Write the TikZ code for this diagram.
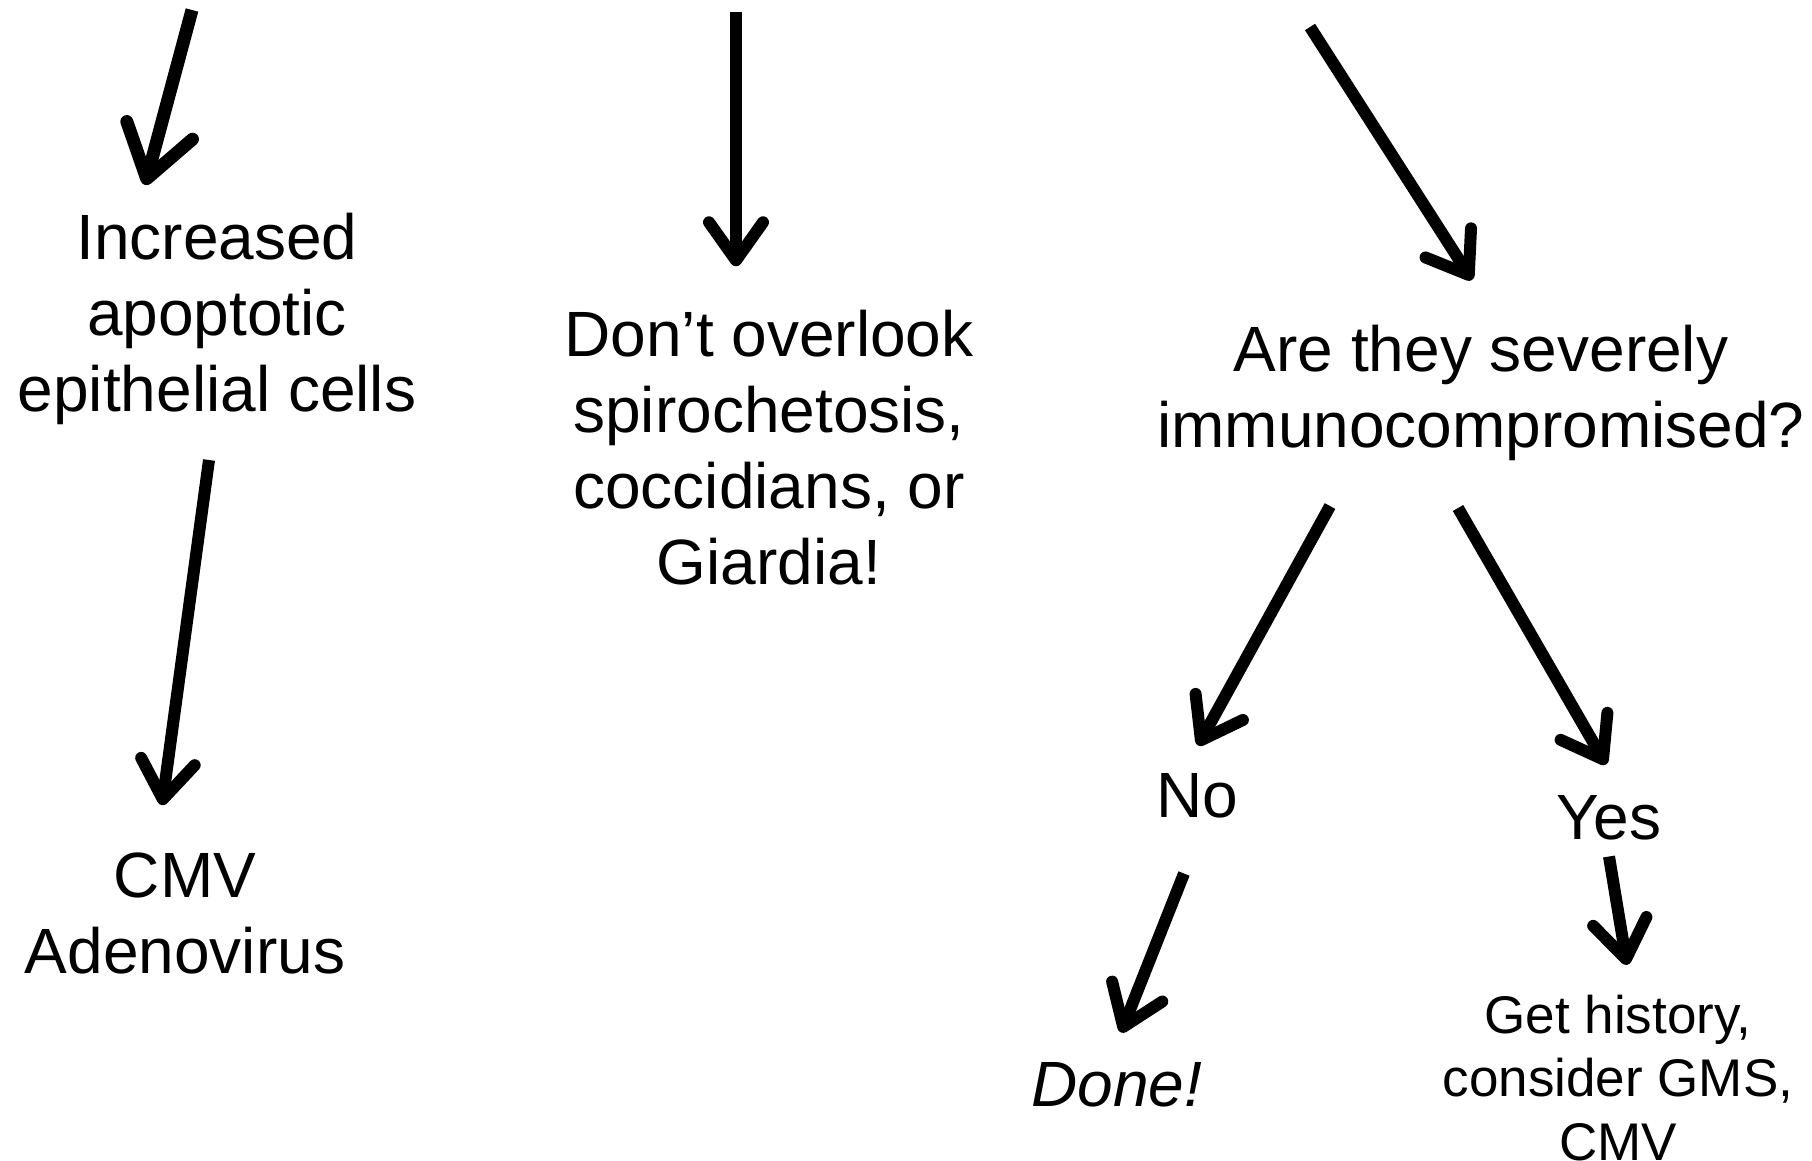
\documentclass[tikz,border=0pt]{standalone}
\usepackage{fontspec}
\setmainfont{Liberation Sans}
\usetikzlibrary{arrows.meta,positioning}
\tikzset{
  flow/.style={
    line width=12pt,
    -{Straight Barb[length=38pt,width=54pt,round]}
  },
  bigflow/.style={
    line width=13pt,
    -{Straight Barb[length=50pt,width=68pt,round]}
  },
}
\tikzset{
  txt/.style={
    inner sep=0pt,
    align=center,
    font=\fontsize{64}{76}\selectfont
  },
  small/.style={
    inner sep=0pt,
    align=center,
    font=\fontsize{53}{63.5}\selectfont
  },
}

\begin{document}
\begin{tikzpicture}[x=1pt,y=-1pt]
        \useasboundingbox (0,0) rectangle (1812,1161);

        % left column
        \coordinate (inL) at (192,10);
        \node[txt] (apop) at (217,319) {Increased\\apoptotic\\epithelial cells};
        \node[txt] (virus) at (185,913) {CMV\\Adenovirus};

        \draw[bigflow] (inL) -- ([shift={(-72,-28)}]apop.north);
        \draw[flow] ([shift={(-8,35)}]apop.south) -- ([shift={(-23,-47)}]virus.north);

        % middle column
        \coordinate (inM) at (736,12);
        \node[txt] (look) at (769,448) {Don’t overlook\\spirochetosis,\\coccidians, or\\Giardia!};

        \draw[flow] (inM) -- ([shift={(-33,-44)}]look.north);

        % right column
        \coordinate (inR) at (1310,27);
        \node[txt] (immuno) at (1481,393) {Are they severely\\immunocompromised?};
        \node[txt] (no) at (1197,796) {No};
        \node[txt] (yes) at (1609,818) {Yes};
        \node[txt] (done) at (1117,1085) {\itshape Done!};
        \node[small] (hist) at (1618,1078) {Get history,\\consider GMS,\\CMV};

        \draw[flow] (inR) -- ([shift={(-9,-45)}]immuno.north);
        \draw[flow] ([shift={(-151,45)}]immuno.south) -- ([shift={(1,-28)}]no.north);
        \draw[flow] ([shift={(-23,47)}]immuno.south) -- ([shift={(-3,-31)}]yes.north);
        \draw[flow] ([shift={(-13,55)}]no.south) -- ([shift={(4,-30)}]done.north);
        \draw[flow] ([shift={(0,16)}]yes.south) -- ([shift={(9,-30)}]hist.north);
\end{tikzpicture}
\end{document}
